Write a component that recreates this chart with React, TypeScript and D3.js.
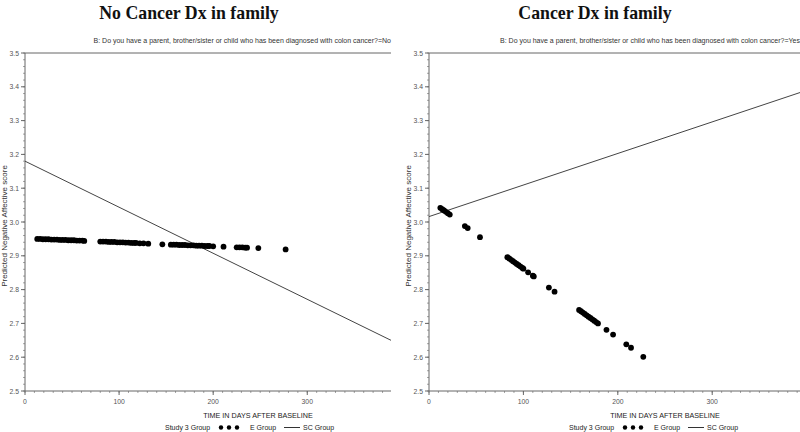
import React from 'react';
import * as d3 from 'd3';

// E group predicted scores (no cancer in family)
const noDxDays = [13, 16, 19, 22, 25, 28, 31, 34, 37, 40, 43, 46, 49, 52, 55, 58, 61, 63,
  80, 83, 86, 89, 92, 95, 98, 101, 104, 107, 110, 113, 116, 118, 122, 126, 131, 146,
  155, 158, 161, 164, 167, 170, 173, 176, 179, 182, 185, 188, 191, 194, 196, 200, 211,
  225, 228, 231, 234, 236, 248, 277];
const noDxScores = [2.950, 2.950, 2.949, 2.949, 2.949, 2.948, 2.948, 2.948, 2.947, 2.947, 2.947, 2.946, 2.946, 2.946, 2.945, 2.945, 2.945, 2.944,
  2.942, 2.942, 2.942, 2.941, 2.941, 2.941, 2.940, 2.940, 2.940, 2.939, 2.939, 2.938, 2.938, 2.938, 2.937, 2.937, 2.936, 2.934,
  2.933, 2.933, 2.933, 2.932, 2.932, 2.932, 2.931, 2.931, 2.931, 2.930, 2.930, 2.930, 2.929, 2.929, 2.929, 2.928, 2.927,
  2.925, 2.925, 2.925, 2.924, 2.924, 2.923, 2.919];

// E group predicted scores (cancer in family)
const dxDays = [12, 14, 16, 18, 20, 22, 38, 41, 54,
  83, 85, 87, 89, 91, 93, 95, 97, 99, 100, 105, 110, 111, 127, 133,
  159, 161, 163, 165, 167, 169, 171, 173, 175, 177, 179, 188, 195, 209, 214, 227];
const dxScores = [3.042, 3.038, 3.034, 3.030, 3.026, 3.022, 2.988, 2.982, 2.955,
  2.896, 2.892, 2.888, 2.884, 2.880, 2.876, 2.872, 2.868, 2.864, 2.862, 2.851, 2.841, 2.839, 2.806, 2.794,
  2.740, 2.736, 2.732, 2.728, 2.724, 2.720, 2.716, 2.712, 2.708, 2.704, 2.700, 2.681, 2.667, 2.638, 2.628, 2.601];

// SC group fitted lines (endpoints)
const noDxLineDays = [0, 389];
const noDxLineScores = [3.18, 2.65];
const dxLineDays = [0, 393];
const dxLineScores = [3.016, 3.383];

const yTicks = [2.5, 2.6, 2.7, 2.8, 2.9, 3.0, 3.1, 3.2, 3.3, 3.4, 3.5];
const xTicks = [0, 100, 200, 300];

const SANS = 'Arial, "Liberation Sans", sans-serif';
const AXIS = '#666';

type PanelProps = {
  left: number;
  right: number;
  maxDay: number;
  title: string;
  titleX: number;
  subtitle: string;
  days: number[];
  scores: number[];
  lineDays: number[];
  lineScores: number[];
  xLabelX: number;
  legendX: number;
};

const Panel = (p: PanelProps) => {
  const top = 53;
  const bottom = 391;
  const x = d3.scaleLinear().domain([0, p.maxDay]).range([p.left, p.right]);
  const y = d3.scaleLinear().domain([2.5, 3.5]).range([bottom, top]);
  const minorY = d3.range(2.5, 3.5001, 0.02);
  const minorX = d3.range(0, p.maxDay, 10);
  const line = d3.line<number>().x((d) => x(d)).y((_, i) => y(p.lineScores[i]));

  return (
    <g>
      <text x={p.titleX} y={19} textAnchor="middle" fontFamily='"Times New Roman", "Liberation Serif", serif'
        fontWeight="bold" fontSize={17.8} fill="#111">{p.title}</text>
      <text x={p.right} y={43} textAnchor="end" fontFamily={SANS} fontSize={7} fill="#333">{p.subtitle}</text>

      {/* axes frame */}
      <line x1={p.left} x2={p.right} y1={top} y2={top} stroke={AXIS} strokeWidth={1} />
      <line x1={p.left} x2={p.left} y1={top} y2={bottom} stroke={AXIS} strokeWidth={1} />
      <line x1={p.left} x2={p.right} y1={bottom} y2={bottom} stroke={AXIS} strokeWidth={1} />

      {minorY.map((v, i) => (
        <line key={'my' + i} x1={p.left - 2} x2={p.left} y1={y(v)} y2={y(v)} stroke={AXIS} strokeWidth={0.6} />
      ))}
      {yTicks.map((v) => (
        <g key={'y' + v}>
          <line x1={p.left - 4} x2={p.left} y1={y(v)} y2={y(v)} stroke={AXIS} />
          <text x={p.left - 6} y={y(v) + 2.5} textAnchor="end" fontFamily={SANS} fontSize={6.8} fill="#555">
            {v.toFixed(1)}
          </text>
        </g>
      ))}
      {minorX.map((v, i) => (
        <line key={'mx' + i} x1={x(v)} x2={x(v)} y1={bottom} y2={bottom + 2} stroke={AXIS} strokeWidth={0.6} />
      ))}
      {xTicks.map((v) => (
        <g key={'x' + v}>
          <line x1={x(v)} x2={x(v)} y1={bottom} y2={bottom + 4} stroke={AXIS} />
          <text x={x(v)} y={bottom + 13} textAnchor="middle" fontFamily={SANS} fontSize={6.8} fill="#555">{v}</text>
        </g>
      ))}

      <text transform={`translate(${p.left - 18},${226}) rotate(-90)`} textAnchor="middle"
        fontFamily={SANS} fontSize={8} fill="#333">Predicted Negative Affective score</text>
      <text x={p.xLabelX} y={418} textAnchor="middle" fontFamily={SANS} fontSize={7.2} fill="#222">
        TIME IN DAYS AFTER BASELINE
      </text>

      <path d={line(p.lineDays) || ''} fill="none" stroke="#444" strokeWidth={1} />
      {p.days.map((d, i) => (
        <circle key={'p' + i} cx={x(d)} cy={y(p.scores[i])} r={2.9} fill="#000" />
      ))}

      {/* legend */}
      <g fontFamily={SANS} fontSize={7} fill="#222">
        <text x={p.legendX} y={430}>Study 3 Group</text>
        {[0, 1, 2].map((k) => (
          <circle key={'lg' + k} cx={p.legendX + 56 + k * 8} cy={427.5} r={2.2} fill="#000" />
        ))}
        <text x={p.legendX + 85} y={430}>E Group</text>
        <line x1={p.legendX + 119} x2={p.legendX + 135} y1={427.5} y2={427.5} stroke="#333" strokeWidth={1} />
        <text x={p.legendX + 138} y={430}>SC Group</text>
      </g>
    </g>
  );
};

export default function App() {
  return (
    <svg width={800} height={432} style={{ position: 'absolute', left: 0, top: 0, background: '#fff' }}>
      <rect width={800} height={432} fill="#fff" />
      <Panel left={25} right={391} maxDay={389} title="No Cancer Dx in family" titleX={189}
        subtitle="B: Do you have a parent, brother/sister or child who has been diagnosed with colon cancer?=No"
        days={noDxDays} scores={noDxScores} lineDays={noDxLineDays} lineScores={noDxLineScores}
        xLabelX={258} legendX={165} />
      <Panel left={429} right={800} maxDay={393} title="Cancer Dx in family" titleX={595}
        subtitle="B: Do you have a parent, brother/sister or child who has been diagnosed with colon cancer?=Yes"
        days={dxDays} scores={dxScores} lineDays={dxLineDays} lineScores={dxLineScores}
        xLabelX={665} legendX={569} />
    </svg>
  );
}
